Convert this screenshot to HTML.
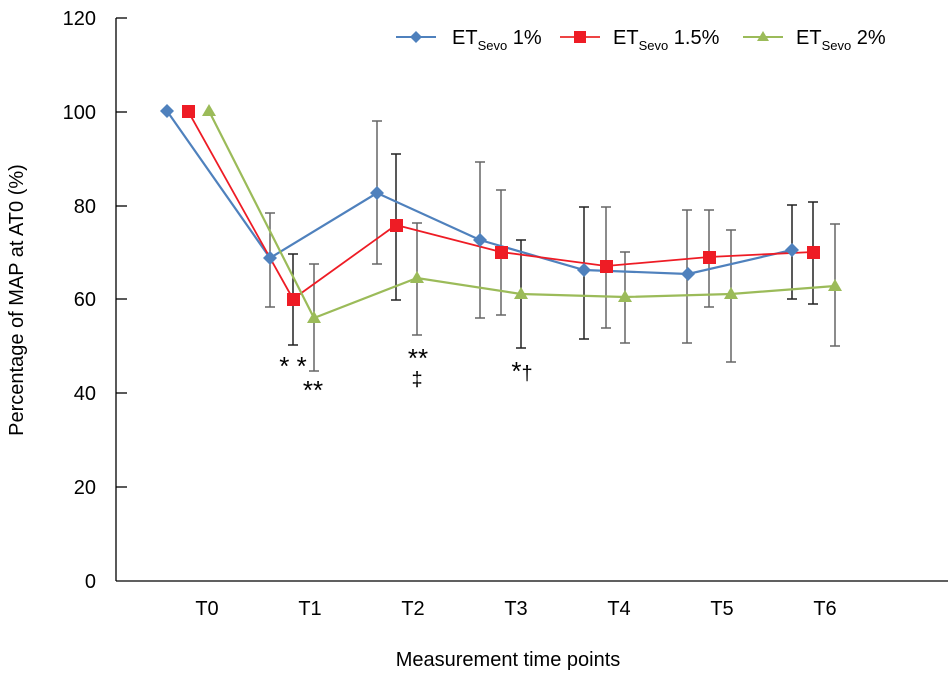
<!DOCTYPE html>
<html><head><meta charset="utf-8"><style>
html,body{margin:0;padding:0;background:#fff;}
svg{display:block;font-family:"Liberation Sans",Arial,sans-serif;}
</style></head><body>
<svg width="950" height="696" viewBox="0 0 950 696" xmlns="http://www.w3.org/2000/svg">
<g stroke="#000" stroke-width="1.3" fill="none">
<line x1="116" y1="18" x2="116" y2="581"/>
<line x1="116" y1="581" x2="948" y2="581"/>
<line x1="116" y1="18" x2="127" y2="18"/>
<line x1="116" y1="112" x2="127" y2="112"/>
<line x1="116" y1="206" x2="127" y2="206"/>
<line x1="116" y1="299" x2="127" y2="299"/>
<line x1="116" y1="393" x2="127" y2="393"/>
<line x1="116" y1="487" x2="127" y2="487"/>
</g>
<g font-size="20" fill="#000" text-anchor="end">
<text x="96" y="25">120</text>
<text x="96" y="119">100</text>
<text x="96" y="213">80</text>
<text x="96" y="306">60</text>
<text x="96" y="400">40</text>
<text x="96" y="494">20</text>
<text x="96" y="588">0</text>
</g>
<g font-size="20" fill="#000" text-anchor="middle">
<text x="207" y="615">T0</text>
<text x="310" y="615">T1</text>
<text x="413" y="615">T2</text>
<text x="516" y="615">T3</text>
<text x="619" y="615">T4</text>
<text x="722" y="615">T5</text>
<text x="825" y="615">T6</text>
<text x="508" y="666">Measurement time points</text>
<text transform="translate(23,300) rotate(-90)">Percentage of MAP at AT0 (%)</text>
</g>
<g stroke-width="1.5" fill="none">
<g stroke="#666">
<path d="M270 213V307M265 213h10M265 307h10"/>
<path d="M377 121V264M372 121h10M372 264h10"/>
<path d="M480 162V318M475 162h10M475 318h10"/>
<path d="M687 210V343M682 210h10M682 343h10"/>
</g>
<g stroke="#222">
<path d="M584 207V339M579 207h10M579 339h10"/>
<path d="M792 205V299M787 205h10M787 299h10"/>
<path d="M293 254V345M288 254h10M288 345h10"/>
<path d="M396 154V300M391 154h10M391 300h10"/>
<path d="M813 202V304M808 202h10M808 304h10"/>
<path d="M521 240V348M516 240h10M516 348h10"/>
</g>
<g stroke="#666">
<path d="M501 190V315M496 190h10M496 315h10"/>
<path d="M606 207V328M601 207h10M601 328h10"/>
<path d="M709 210V307M704 210h10M704 307h10"/>
<path d="M314 264V371M309 264h10M309 371h10"/>
<path d="M417 223V335M412 223h10M412 335h10"/>
<path d="M625 252V343M620 252h10M620 343h10"/>
<path d="M731 230V362M726 230h10M726 362h10"/>
<path d="M835 224V346M830 224h10M830 346h10"/>
</g>
</g>
<polyline fill="none" stroke="#4f81bd" stroke-width="2.2" points="167,111 270,258 377,193 480,240 584,270 688,274 792,250"/>
<polyline fill="none" stroke="#ee1c25" stroke-width="1.8" points="188,111 293,299 396,225 501,252 606,266 709,257 813,252"/>
<polyline fill="none" stroke="#9bbb59" stroke-width="2.2" points="209,111 314,318 417,278 521,294 625,297 731,294 835,286"/>
<g fill="#4f81bd">
<path d="M167 104l7 7-7 7-7-7z"/><path d="M270 251l7 7-7 7-7-7z"/><path d="M377 186l7 7-7 7-7-7z"/><path d="M480 233l7 7-7 7-7-7z"/><path d="M584 263l7 7-7 7-7-7z"/><path d="M688 267l7 7-7 7-7-7z"/><path d="M792 243l7 7-7 7-7-7z"/>
</g>
<g fill="#ee1c25">
<rect x="182" y="105" width="13" height="13"/><rect x="287" y="293" width="13" height="13"/><rect x="390" y="219" width="13" height="13"/><rect x="495" y="246" width="13" height="13"/><rect x="600" y="260" width="13" height="13"/><rect x="703" y="251" width="13" height="13"/><rect x="807" y="246" width="13" height="13"/>
</g>
<g fill="#9bbb59">
<path d="M209 104l7 12h-14z"/><path d="M314 311l7 12h-14z"/><path d="M417 271l7 12h-14z"/><path d="M521 287l7 12h-14z"/><path d="M625 290l7 12h-14z"/><path d="M731 287l7 12h-14z"/><path d="M835 279l7 12h-14z"/>
</g>
<g font-size="26" fill="#000" text-anchor="middle">
<text x="293" y="375">* *</text>
<text x="313" y="399">**</text>
<text x="418" y="367">**</text>
<text x="417" y="386" font-size="20">‡</text>
<text x="522" y="380">*<tspan font-size="20">†</tspan></text>
</g>
<g stroke-width="2">
<line x1="396" y1="37" x2="436" y2="37" stroke="#4f81bd"/>
<path d="M416 31l6 6-6 6-6-6z" fill="#4f81bd"/>
<line x1="560" y1="37" x2="600" y2="37" stroke="#ee4444"/>
<rect x="574" y="31" width="12" height="12" fill="#ee1c25"/>
<line x1="743" y1="37" x2="783" y2="37" stroke="#9bbb59"/>
<path d="M763 31l6 10h-12z" fill="#9bbb59"/>
</g>
<g font-size="20" fill="#000">
<text x="452" y="44">ET<tspan font-size="13" dy="6">Sevo</tspan><tspan dy="-6"> 1%</tspan></text>
<text x="613" y="44">ET<tspan font-size="13" dy="6">Sevo</tspan><tspan dy="-6"> 1.5%</tspan></text>
<text x="796" y="44">ET<tspan font-size="13" dy="6">Sevo</tspan><tspan dy="-6"> 2%</tspan></text>
</g>
</svg>
</body></html>
